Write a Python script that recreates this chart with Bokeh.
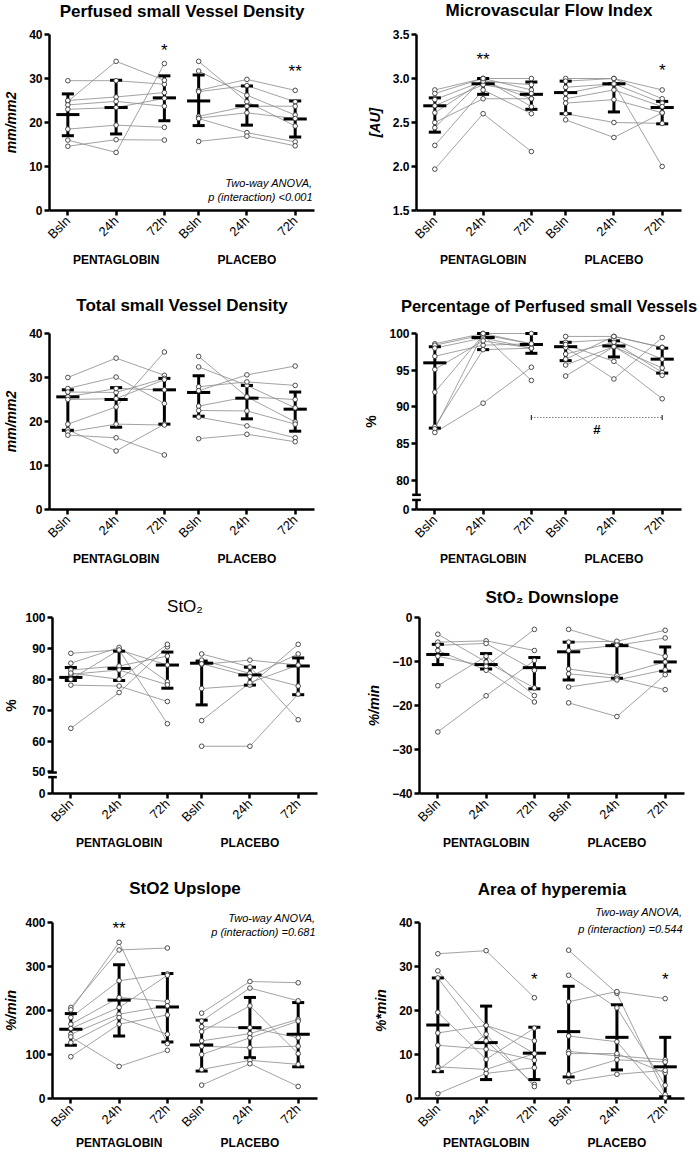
import math
from bokeh.plotting import figure
from bokeh.layouts import column, row
from bokeh.models import FixedTicker, NumeralTickFormatter, Range1d
from bokeh.core.properties import value
from bokeh.embed import file_html
from bokeh.resources import INLINE

TIMES = ["Bsln", "24h", "72h"]
GROUPS = ["PENTAGLOBIN", "PLACEBO"]

# ---------------- Perfused small Vessel Density ----------------
PSVD_PENTA = [[29.5, 29.5, 28.7], [24.8, 33.9, 29.6], [25.0, 25.8, 26.8], [24.0, 24.8, 23.7],
              [23.0, 23.4, 25.5], [18.5, 19.4, 18.9], [16.0, 13.2, 33.4], [14.6, 16.1, 16.0]]
PSVD_PLAC = [[33.9, 24.7, 19.2], [31.7, 26.2, 21.7], [27.3, 29.8, 27.3], [27.0, 28.4, 24.7],
             [21.4, 23.7, 23.7], [21.0, 22.2, 20.9], [20.9, 17.7, 15.6], [15.7, 16.9, 14.7]]
PSVD_MEAN = [21.8, 23.4, 25.6, 24.9, 23.8, 20.8]
PSVD_LO = [17.0, 17.4, 20.4, 19.3, 19.4, 16.7]
PSVD_HI = [26.5, 29.6, 30.6, 30.8, 28.3, 24.9]
PSVD_YTICKS = [0, 10, 20, 30, 40]
PSVD_STARS = [("*", 2, 37.6), ("**", 5, 32.7)]
PSVD_NOTE = ["Two-way ANOVA,", "p (interaction) <0.001"]
PSVD_NOTE_Y = [6.3, 3.1]

# ---------------- Microvascular Flow Index ----------------
MFI_PENTA = [[2.87, 3.00, 3.00], [2.83, 3.00, 2.87], [2.76, 2.97, 2.93], [2.69, 2.93, 2.83],
             [2.61, 2.97, 2.77], [2.50, 2.77, 2.77], [2.44, 3.00, 2.68], [2.24, 2.87, 2.60],
             [1.97, 2.60, 2.17]]
MFI_PLAC = [[3.00, 3.00, 2.87], [2.97, 3.00, 2.77], [2.90, 2.94, 2.72], [2.83, 2.94, 2.00],
            [2.77, 2.87, 2.68], [2.72, 2.76, 2.61], [2.60, 2.50, 2.49], [2.53, 2.33, 2.61]]
MFI_MEAN = [2.69, 2.94, 2.82, 2.84, 2.94, 2.67]
MFI_LO = [2.39, 2.82, 2.65, 2.60, 2.62, 2.485]
MFI_HI = [2.78, 3.00, 2.96, 2.97, 2.94, 2.74]
MFI_YTICKS = [1.5, 2.0, 2.5, 3.0, 3.5]
MFI_STARS = [("**", 1, 3.27), ("*", 5, 3.15)]

# ---------------- Total small Vessel Density ----------------
TSVD_PENTA = [[30.0, 34.4, 30.5], [27.5, 30.1, 24.1], [26.7, 26.6, 29.8], [25.6, 27.5, 27.2],
              [25.0, 25.2, 29.5], [19.4, 23.3, 35.8], [18.1, 13.3, 19.4], [17.6, 19.4, 19.2],
              [16.9, 16.3, 12.4]]
TSVD_PLAC = [[34.8, 25.6, 19.9], [32.4, 28.2, 23.1], [27.9, 29.0, 28.2], [27.0, 30.6, 32.6],
             [23.5, 25.6, 25.0], [22.5, 22.4, 19.4], [21.0, 19.0, 16.3], [16.1, 17.1, 15.4]]
TSVD_MEAN = [25.6, 25.0, 27.2, 26.6, 25.3, 22.8]
TSVD_LO = [18.0, 18.7, 19.4, 21.2, 20.6, 17.8]
TSVD_HI = [27.2, 27.7, 29.8, 30.4, 28.2, 26.7]
TSVD_YTICKS = [0, 10, 20, 30, 40]

# ---------------- Percentage of Perfused small Vessels ----------------
PPV_PENTA = [[98.6, 100.0, 100.0], [98.4, 99.8, 98.6], [98.0, 99.4, 98.0], [96.9, 98.4, 98.6],
             [95.1, 99.0, 98.0], [92.0, 99.8, 93.6], [87.3, 97.8, 98.0], [87.0, 100.0, 98.6],
             [86.5, 90.5, 95.4]]
PPV_PLAC = [[99.6, 99.6, 98.1], [98.8, 99.2, 96.5], [98.1, 93.8, 99.45], [97.2, 98.8, 94.7],
            [95.7, 98.2, 95.3], [94.2, 98.2, 94.3], [98.5, 96.2, 91.1], [96.5, 99.6, 98.1]]
PPV_MEAN = [96.0, 99.45, 98.5, 98.2, 98.3, 96.5]
PPV_LO = [87.1, 97.8, 97.3, 96.3, 96.8, 94.6]
PPV_HI = [98.2, 100.0, 100.0, 98.8, 99.0, 98.0]
PPV_YTICKS = [0, 80, 85, 90, 95, 100]
PPV_BRACKET_Y = 88.55
PPV_HASH_Y = 86.9

# ---------------- StO2 ----------------
STO2_PENTA = [[88.4, 89.5, 84.6], [85.2, 90.3, 79.2], [83.0, 84.3, 87.5], [81.6, 83.0, 78.2],
              [80.0, 89.5, 65.6], [78.1, 77.8, 72.8], [64.1, 75.7, 90.5], [82.0, 80.0, 91.3]]
STO2_PLAC = [[88.2, 84.0, 66.9], [86.2, 81.9, 77.8], [84.8, 86.2, 84.6], [85.0, 80.9, 88.2],
             [77.0, 78.1, 91.3], [66.6, 78.9, 84.6], [58.3, 58.3, 75.2]]
STO2_MEAN = [80.6, 83.5, 84.6, 85.2, 81.4, 84.3]
STO2_LO = [79.6, 79.6, 77.1, 71.7, 78.1, 75.0]
STO2_HI = [83.8, 89.1, 88.8, 85.9, 83.9, 86.9]
STO2_YTICKS = [0, 50, 60, 70, 80, 90, 100]

# ---------------- StO2 Downslope ----------------
DOWN_PENTA = [[-3.8, -10.1, -16.0], [-5.6, -5.3, -7.5], [-6.3, -5.9, -12.0], [-7.5, -12.0, -19.2],
              [-8.8, -11.1, -2.7], [-15.5, -8.8, -17.75], [-26.0, -17.8, -9.75]]
DOWN_PLAC = [[-2.7, -5.9, -8.8], [-5.6, -5.4, -2.9], [-7.5, -6.3, -4.65], [-11.7, -13.2, -10.1],
             [-12.8, -13.8, -16.4], [-15.8, -14.2, -11.9], [-19.4, -22.5, -13.0]]
DOWN_MEAN = [-8.4, -10.7, -11.4, -7.8, -6.4, -10.1]
DOWN_LO = [-10.7, -11.7, -16.2, -14.2, -13.8, -12.2]
DOWN_HI = [-6.1, -8.2, -9.1, -5.6, -6.2, -6.7]
DOWN_YTICKS = [-40, -30, -20, -10, 0]

# ---------------- StO2 Upslope ----------------
UP_PENTA = [[206.8, 337.6, 342.0], [201.5, 355.0, 124.7], [184.0, 267.7, 283.0], [168.8, 229.7, 220.5],
            [159.0, 206.8, 280.0], [146.0, 191.6, 210.6], [127.0, 184.0, 146.0], [95.0, 168.8, 190.0],
            [140.0, 73.0, 109.5]]
UP_PLAC = [[194, 266, 263], [176, 251, 222], [163, 161, 138], [152, 210.6, 102], [131, 147.5, 180],
           [118.6, 115.6, 119], [100, 138, 176], [66, 86.7, 77.6], [30.4, 79, 27.4]]
UP_MEAN = [157.4, 223.6, 208.0, 121.7, 161.0, 146.0]
UP_LO = [121, 142, 128.5, 62.4, 92.8, 72]
UP_HI = [193, 304, 284, 178, 229.7, 218]
UP_YTICKS = [0, 100, 200, 300, 400]
UP_STARS = [("**", 1, 397)]
UP_NOTE = ["Two-way ANOVA,", "p (interaction) =0.681"]
UP_NOTE_Y = [410.6, 379.5]

# ---------------- Area of hyperemia ----------------
HYP_PENTA = [[32.9, 33.6, 22.9], [29.0, 16.6, 13.1], [27.4, 13.1, 3.2], [19.6, 8.9, 16.0],
             [14.9, 16.6, 10.2], [12.1, 11.2, 8.7], [7.2, 6.6, 10.2], [6.4, 14.6, 2.7], [1.1, 5.7, 7.0]]
HYP_PLAC = [[33.7, 23.9, 0.9], [28.0, 20.6, 3.0], [22.0, 24.3, 22.7], [14.2, 12.9, 0.15],
            [10.7, 9.7, 8.8], [10.2, 10.2, 5.8], [5.5, 8.8, 8.3], [3.8, 5.5, 6.4]]
HYP_MEAN = [16.7, 12.7, 10.3, 15.2, 13.9, 7.2]
HYP_LO = [6.1, 4.3, 4.3, 4.9, 6.5, 0.4]
HYP_HI = [27.4, 21.0, 16.2, 25.5, 21.3, 13.9]
HYP_YTICKS = [0, 10, 20, 30, 40]
HYP_STARS = [("*", 2, 28.1), ("*", 5, 28.1)]
HYP_NOTE = ["Two-way ANOVA,", "p (interaction) =0.544"]
HYP_NOTE_Y = [42.3, 38.6]

# ---------------- layout / style ----------------
FONT = "Liberation Sans"
STEP = 100
GROUP_SHIFT = 271
X_LO, X_HI = -38, 511
FRAME_W = 265
# (top border, frame height, bottom border, group label offset) per row
ROW_GEOM = [(34, 176, 80, 49), (43, 176, 71, 49), (37, 176, 67, 49), (62, 176, 53, 44)]
COL_BORDERS = [(47, 38), (64, 21)]
LINE_GREY = "#8a8a8a"


def xpos(g, t):
    return g * GROUP_SHIFT + t * STEP


CAT_X = [xpos(g, t) for g in range(2) for t in range(3)]

PANELS = [
    dict(title="Perfused small Vessel Density", ylabel="mm/mm2", lstyle="bold italic",
         penta=PSVD_PENTA, plac=PSVD_PLAC, mean=PSVD_MEAN, lo=PSVD_LO, hi=PSVD_HI,
         yticks=PSVD_YTICKS, stars=PSVD_STARS, note=PSVD_NOTE, note_y=PSVD_NOTE_Y, tgap=23),
    dict(title="Microvascular Flow Index", ylabel="[AU]", lstyle="bold italic",
         penta=MFI_PENTA, plac=MFI_PLAC, mean=MFI_MEAN, lo=MFI_LO, hi=MFI_HI,
         yticks=MFI_YTICKS, stars=MFI_STARS, decimals=True, tgap=24),
    dict(title="Total small Vessel Density", ylabel="mm/mm2", lstyle="bold italic",
         penta=TSVD_PENTA, plac=TSVD_PLAC, mean=TSVD_MEAN, lo=TSVD_LO, hi=TSVD_HI,
         yticks=TSVD_YTICKS, tgap=28),
    dict(title="Percentage of Perfused small Vessels", ylabel="%", lstyle="bold",
         penta=PPV_PENTA, plac=PPV_PLAC, mean=PPV_MEAN, lo=PPV_LO, hi=PPV_HI,
         yticks=PPV_YTICKS, floor=76, brk=(77.3, 78.0), bracket=True, tgap=28, tsize="16.5px"),
    dict(title="StO\u2082", ylabel="%", lstyle="bold", tstyle="normal",
         penta=STO2_PENTA, plac=STO2_PLAC, mean=STO2_MEAN, lo=STO2_LO, hi=STO2_HI,
         yticks=STO2_YTICKS, floor=43, brk=(48.3, 49.8), tgap=11, lstandoff=3),
    dict(title="StO\u2082 Downslope", ylabel="%/min", lstyle="bold italic",
         penta=DOWN_PENTA, plac=DOWN_PLAC, mean=DOWN_MEAN, lo=DOWN_LO, hi=DOWN_HI,
         yticks=DOWN_YTICKS, tgap=20),
    dict(title="StO2 Upslope", ylabel="%/min", lstyle="bold italic",
         penta=UP_PENTA, plac=UP_PLAC, mean=UP_MEAN, lo=UP_LO, hi=UP_HI,
         yticks=UP_YTICKS, stars=UP_STARS, note=UP_NOTE, note_y=UP_NOTE_Y, tgap=34, lstandoff=3),
    dict(title="Area of hyperemia", ylabel="%*min", lstyle="bold italic",
         penta=HYP_PENTA, plac=HYP_PLAC, mean=HYP_MEAN, lo=HYP_LO, hi=HYP_HI,
         yticks=HYP_YTICKS, stars=HYP_STARS, note=HYP_NOTE, note_y=HYP_NOTE_Y, tgap=33),
]


def style_axis(ax):
    ax.axis_line_width = 2.5
    ax.axis_line_color = "black"
    ax.major_tick_line_width = 2.5
    ax.major_tick_line_color = "black"
    ax.major_tick_out = 5
    ax.major_tick_in = 0
    ax.minor_tick_line_color = None
    ax.major_label_text_font = FONT
    ax.major_label_text_color = "black"


def make_panel(spec, idx):
    col = idx % 2
    rowi = idx // 2
    top, fh, bottom, goff = ROW_GEOM[rowi]
    bl, br = COL_BORDERS[col]
    ticks = list(spec["yticks"])
    floor = spec.get("floor")
    tick_pos = [floor if (floor is not None and t == 0) else t for t in ticks]
    y0, y1 = min(tick_pos), max(tick_pos)

    p = figure(frame_width=FRAME_W, frame_height=fh,
               x_range=Range1d(X_LO, X_HI), y_range=Range1d(y0, y1),
               output_backend="svg", toolbar_location=None,
               min_border_left=bl, min_border_right=br,
               min_border_top=top, min_border_bottom=bottom)
    p.outline_line_color = None
    p.grid.visible = False
    p.background_fill_color = "white"
    p.border_fill_color = "white"

    # x axis (time points)
    xa = p.xaxis[0]
    style_axis(xa)
    xa.ticker = FixedTicker(ticks=CAT_X)
    xa.major_label_overrides = {xpos(g, t): TIMES[t] for g in range(2) for t in range(3)}
    xa.major_label_orientation = math.pi / 4
    xa.major_label_text_font_size = "13px"
    xa.major_label_standoff = 3

    # y axis
    ya = p.yaxis[0]
    style_axis(ya)
    ya.ticker = FixedTicker(ticks=tick_pos)
    if spec.get("decimals"):
        ya.formatter = NumeralTickFormatter(format="0.0")
    if floor is not None:
        ya.major_label_overrides = {floor: "0"}
    ya.major_label_text_font_size = "12px"
    ya.major_label_text_font_style = "bold"
    ya.major_label_standoff = 2
    ya.axis_label = spec["ylabel"]
    ya.axis_label_text_font = FONT
    ya.axis_label_text_font_size = "14px"
    ya.axis_label_text_font_style = spec["lstyle"]
    ya.axis_label_text_color = "black"
    ya.axis_label_standoff = spec.get("lstandoff", 7)

    mid_x = (X_LO + X_HI) / 2
    # title
    p.text(x=[mid_x], y=[y1], text=[spec["title"]], text_align="center", text_baseline="middle",
           text_font=value(FONT), text_font_size=spec.get("tsize", "17px"),
           text_font_style=spec.get("tstyle", "bold"), text_color="black",
           y_offset=-spec["tgap"], level="overlay")

    # group labels
    p.text(x=[xpos(g, 1) for g in range(2)], y=[y0, y0], text=GROUPS, text_align="center",
           text_baseline="middle", text_font=value(FONT), text_font_size="12px",
           text_font_style="bold", text_color="black", y_offset=goff, level="overlay")

    if floor is not None:
        lo_b, hi_b = spec["brk"]
        ya.axis_line_color = None
        p.segment(x0=[X_LO, X_LO], y0=[y0, hi_b], x1=[X_LO, X_LO], y1=[lo_b, y1],
                  line_width=2.5, line_color="black", level="overlay")
        p.segment(x0=[X_LO - 9, X_LO - 9], y0=[lo_b, hi_b], x1=[X_LO + 9, X_LO + 9], y1=[lo_b, hi_b],
                  line_width=2.5, line_color="black", level="overlay")

    # individual subject trajectories
    for g, subjects in enumerate([spec["penta"], spec["plac"]]):
        xs = [[xpos(g, t) for t in range(3)] for _ in subjects]
        ys = [list(s) for s in subjects]
        p.multi_line(xs, ys, line_color=LINE_GREY, line_width=0.8, level="overlay")

    # error bars and mean
    mean, lo, hi = spec["mean"], spec["lo"], spec["hi"]
    p.segment(x0=CAT_X, y0=lo, x1=CAT_X, y1=hi, line_width=3, line_color="black", level="overlay")
    cap = 12.5
    p.segment(x0=[x - cap for x in CAT_X], y0=lo, x1=[x + cap for x in CAT_X], y1=lo,
              line_width=3, line_color="black", level="overlay")
    p.segment(x0=[x - cap for x in CAT_X], y0=hi, x1=[x + cap for x in CAT_X], y1=hi,
              line_width=3, line_color="black", level="overlay")
    mw = 24
    p.segment(x0=[x - mw for x in CAT_X], y0=mean, x1=[x + mw for x in CAT_X], y1=mean,
              line_width=3, line_color="black", level="overlay")

    # points
    px, py = [], []
    for g, subjects in enumerate([spec["penta"], spec["plac"]]):
        for s in subjects:
            for t in range(3):
                px.append(xpos(g, t))
                py.append(s[t])
    p.scatter(px, py, marker="circle", size=4.6, fill_color="white",
              line_color="#3a3a3a", line_width=0.9, level="overlay")

    # significance marks
    for txt, ci, yv in spec.get("stars", []):
        p.text(x=[CAT_X[ci]], y=[yv], text=[txt], text_align="center", text_baseline="middle",
               text_font=value(FONT), text_font_size="17px", text_color="black",
               y_offset=5, level="overlay")

    if spec.get("note"):
        p.text(x=[X_HI] * len(spec["note"]), y=spec["note_y"], text=spec["note"],
               text_align="right", text_baseline="middle", text_font=value(FONT),
               text_font_size="11px", text_font_style="italic", text_color="black",
               x_offset=-2, level="overlay")

    if spec.get("bracket"):
        bx0, bx1 = CAT_X[2], CAT_X[5]
        yb = PPV_BRACKET_Y
        p.segment(x0=[bx0], y0=[yb], x1=[bx1], y1=[yb], line_width=1, line_color="#333333",
                  line_dash="1 2", level="overlay")
        p.segment(x0=[bx0, bx1], y0=[yb - 0.35, yb - 0.35], x1=[bx0, bx1], y1=[yb + 0.35, yb + 0.35],
                  line_width=1.2, line_color="#333333", level="overlay")
        p.text(x=[(bx0 + bx1) / 2], y=[PPV_HASH_Y], text=["#"], text_align="center",
               text_baseline="middle", text_font=value(FONT), text_font_size="13px",
               text_font_style="bold", text_color="black", level="overlay")
    return p


figs = [make_panel(s, i) for i, s in enumerate(PANELS)]
layout = column(*[row(figs[2 * r], figs[2 * r + 1], spacing=0) for r in range(4)], spacing=0)

open("out.html", "w").write(file_html(layout, INLINE))
